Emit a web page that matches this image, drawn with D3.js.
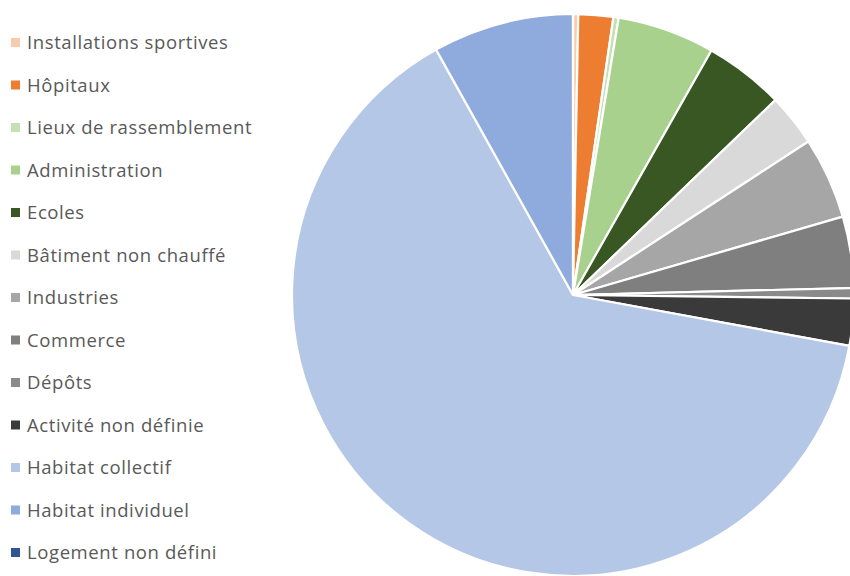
<!DOCTYPE html>
<html>
<head>
<meta charset="utf-8">
<script src="https://cdn.jsdelivr.net/npm/d3@7"></script>
<style>
  html, body { margin: 0; padding: 0; background: #fff; }
  svg { display: block; }
  .legend text { font-family: "Open Sans", sans-serif; font-size: 18.5px; letter-spacing: 0.6px; fill: #595959; }
</style>
</head>
<body>
<svg id="chart" width="850" height="576"></svg>
<script>
// Building categories, in drawing order (clockwise from 12 o'clock)
const categories = [
  "Installations sportives",
  "Hôpitaux",
  "Lieux de rassemblement",
  "Administration",
  "Ecoles",
  "Bâtiment non chauffé",
  "Industries",
  "Commerce",
  "Dépôts",
  "Activité non définie",
  "Habitat collectif",
  "Habitat individuel",
  "Logement non défini"
];

// Share of each category (%)
const values = [0.3, 2.0, 0.3, 5.6, 4.6, 3.0, 4.7, 4.1, 0.6, 2.7, 64.0, 8.1, 0];

const colors = [
  "#F8CBAD", "#ED7D31", "#C5E0B4", "#A9D18E", "#385723",
  "#D9D9D9", "#A6A6A6", "#7F7F7F", "#8A8A8A", "#3A3A3A",
  "#B4C7E7", "#8FAADC", "#2F5597"
];

const data = categories.map((c, i) => ({ name: c, value: values[i] }));

const svg = d3.select("#chart");
const cx = 573, cy = 295, radius = 281;

const color = d3.scaleOrdinal().domain(categories).range(colors);

const pie = d3.pie().value(d => d.value).sort(null);
const arc = d3.arc().innerRadius(0).outerRadius(radius);

svg.append("g")
  .attr("transform", `translate(${cx},${cy})`)
  .selectAll("path")
  .data(pie(data))
  .join("path")
  .attr("d", arc)
  .attr("fill", d => color(d.data.name))
  .attr("stroke", "#fff")
  .attr("stroke-width", 2.2)
  .attr("stroke-linejoin", "round");

// Legend
const y = d3.scalePoint().domain(categories).range([42.5, 552.5]);

const legend = svg.append("g").attr("class", "legend")
  .selectAll("g")
  .data(categories)
  .join("g")
  .attr("transform", d => `translate(11,${y(d)})`);

legend.append("rect")
  .attr("x", 0).attr("y", -4.5)
  .attr("width", 9).attr("height", 9)
  .attr("fill", d => color(d));

legend.append("text")
  .attr("x", 16).attr("y", 0)
  .attr("dy", "0.36em")
  .text(d => d);
</script>
</body>
</html>
